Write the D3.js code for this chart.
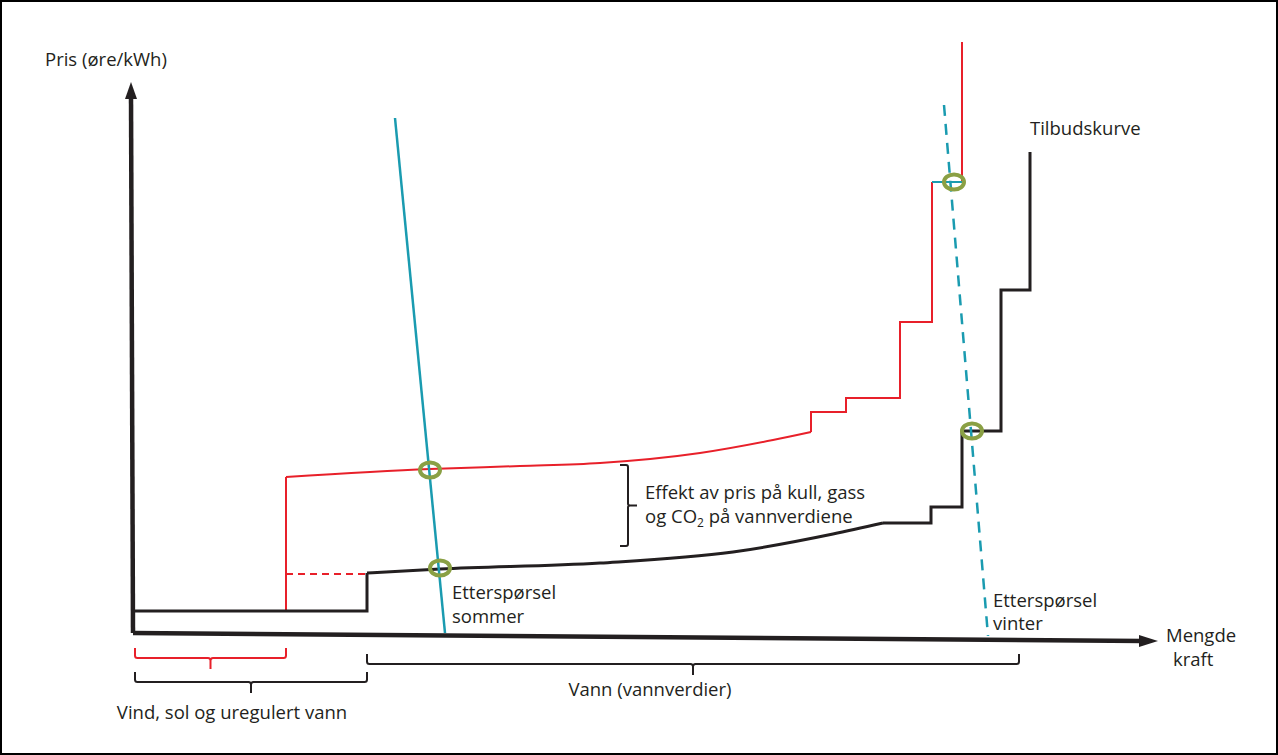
<!DOCTYPE html>
<html><head><meta charset="utf-8">
<script src="https://cdn.jsdelivr.net/npm/d3@7"></script>
<style>
html,body{margin:0;padding:0;background:#fff;}
text{font-family:"Open Sans",sans-serif;fill:#231f20;}
</style></head>
<body><svg id="c" width="1278" height="755"></svg>
<script>
// ---- data (quantity units, price units) ----
const supplyStart = [[2,22],[234,22],[234,60]];
const supplyCurve = [[234,60],[307,64],[467,70],[600,81],[700,99],[750,110]];
const supplySteps = [[750,110],[798,110],[798,126],[829,126],[829,202],[868,202],[868,343],[897,343],[897,481]];
const highStart = [[153,22],[153,156]];
const highCurve = [[153,156],[297,164],[387,167],[467,170],[567,180],[640,193],[678,201]];
const highSteps = [[678,201],[678,221],[713,221],[713,235],[767,235],[767,311],[799,311],[799,451]];
const highTop = [[829,451],[829,591]];
const highJoin = [[799,451],[829,451]];
const dashedLow = [[153,59],[234,59]];
const demandSummer = [[262,515],[312,0]];
const demandWinter = [[811,528],[855,-3]];
const equilibria = [[297,163],[307,65],[821,451],[839,202]];
const bracesBottom = [
  {x1:2, x2:153, p:-25, color:"#e8202a"},
  {x1:2, x2:234, p:-49, color:"#231f20"},
  {x1:234, x2:886, p:-31, color:"#231f20"}
];
const labels = [
  {t:"Pris (øre/kWh)", q:-88, p:567, a:"start"},
  {t:"Tilbudskurve", q:897, p:498, a:"start"},
  {t:"Etterspørsel", q:319, p:34, a:"start"},
  {t:"sommer", q:319, p:10, a:"start"},
  {t:"Etterspørsel", q:860, p:26, a:"start"},
  {t:"vinter", q:860, p:3, a:"start"},
  {t:"Mengde", q:1033, p:-9, a:"start"},
  {t:"kraft", q:1040, p:-33, a:"start"},
  {t:"Vann (vannverdier)", q:517, p:-63, a:"middle"},
  {t:"Vind, sol og uregulert vann", q:99, p:-86, a:"middle"}
];

const W=1278,H=755;
const x = d3.scaleLinear().domain([0,1025]).range([133,1158]);
const y = d3.scaleLinear().domain([0,551]).range([633,82]);
const svg = d3.select("#c");
const FS = 18.5;

svg.append("rect").attr("x",1).attr("y",1).attr("width",W-2).attr("height",H-2)
  .attr("fill","none").attr("stroke","#000").attr("stroke-width",2);

const lin = d3.line().x(d=>x(d[0])).y(d=>y(d[1]));
const crv = d3.line().x(d=>x(d[0])).y(d=>y(d[1])).curve(d3.curveMonotoneX);

// axes
const axisCol="#231f20";
svg.append("path").attr("d",lin([[0,0],[-2,538]])).attr("stroke",axisCol).attr("stroke-width",4.5).attr("fill","none");
svg.append("path").attr("d",`M${x(-2)-6},${y(534)} L${x(-2)},${y(551)} L${x(-2)+6},${y(534)} Z`).attr("fill",axisCol);
svg.append("path").attr("d",lin([[0,0],[1010,-8]])).attr("stroke",axisCol).attr("stroke-width",4.5).attr("fill","none");
svg.append("path").attr("d",`M${x(1006)},${y(-2)} L${x(1025)},${y(-8)} L${x(1006)},${y(-14)} Z`).attr("fill",axisCol);

// red (high) supply
const red="#e8202a";
[highStart,highSteps,highTop].forEach(s=>svg.append("path").attr("d",lin(s)).attr("stroke",red).attr("stroke-width",2).attr("fill","none"));
svg.append("path").attr("d",crv(highCurve)).attr("stroke",red).attr("stroke-width",2).attr("fill","none");
svg.append("path").attr("d",lin(dashedLow)).attr("stroke",red).attr("stroke-width",2).attr("stroke-dasharray","7,5").attr("fill","none");

// black supply
const blk="#231f20";
[supplyStart,supplySteps].forEach(s=>svg.append("path").attr("d",lin(s)).attr("stroke",blk).attr("stroke-width",3).attr("fill","none"));
svg.append("path").attr("d",crv(supplyCurve)).attr("stroke",blk).attr("stroke-width",3).attr("fill","none");

// demand
const teal="#1a9bb0";
svg.append("path").attr("d",lin(highJoin)).attr("stroke",teal).attr("stroke-width",2).attr("fill","none");
svg.append("path").attr("d",lin(demandSummer)).attr("stroke",teal).attr("stroke-width",2.5).attr("fill","none");
svg.append("path").attr("d",lin(demandWinter)).attr("stroke",teal).attr("stroke-width",2.5).attr("stroke-dasharray","11,8").attr("fill","none");

// equilibria
svg.selectAll("ellipse.eq").data(equilibria).join("ellipse")
  .attr("cx",d=>x(d[0])).attr("cy",d=>y(d[1])).attr("rx",10).attr("ry",7.5)
  .attr("fill","none").attr("stroke","#8aa044").attr("stroke-width",4);

// bottom braces
function hBrace(x1,x2,yy,h,tick){
  const xm=(x1+x2)/2, r=2.5;
  return `M${x1},${yy-h} L${x1},${yy-r} Q${x1},${yy} ${x1+r},${yy} L${xm-r},${yy} Q${xm},${yy} ${xm},${yy+r} L${xm},${yy+tick} M${xm},${yy+r} Q${xm},${yy} ${xm+r},${yy} L${x2-r},${yy} Q${x2},${yy} ${x2},${yy-r} L${x2},${yy-h}`;
}
bracesBottom.forEach(b=>{
  svg.append("path").attr("d",hBrace(x(b.x1),x(b.x2),y(b.p),10,11)).attr("stroke",b.color).attr("stroke-width",2).attr("fill","none");
});
// vertical bracket for the effect
{
  const bx=x(495), t=y(168), bt=y(87), m=(t+bt)/2;
  svg.append("path").attr("d",`M${bx-8},${t} L${bx-2},${t} Q${bx},${t} ${bx},${t+2} L${bx},${m-2} Q${bx},${m} ${bx+2},${m} L${bx+9},${m} M${bx+2},${m} Q${bx},${m} ${bx},${m+2} L${bx},${bt-2} Q${bx},${bt} ${bx-2},${bt} L${bx-8},${bt}`)
    .attr("stroke",blk).attr("stroke-width",2).attr("fill","none");
}

// labels
svg.selectAll("text.lb").data(labels).join("text").attr("class","lb")
  .attr("x",d=>x(d.q)).attr("y",d=>y(d.p)).attr("text-anchor",d=>d.a)
  .attr("font-size",FS).text(d=>d.t);

const eff = svg.append("text").attr("x",x(512)).attr("y",y(134)).attr("font-size",FS);
eff.text("Effekt av pris på kull, gass");
const eff2 = svg.append("text").attr("x",x(512)).attr("y",y(110)).attr("font-size",FS);
eff2.append("tspan").text("og CO");
eff2.append("tspan").attr("font-size",12).attr("dy",4).text("2");
eff2.append("tspan").attr("dy",-4).text(" på vannverdiene");
</script></body></html>
